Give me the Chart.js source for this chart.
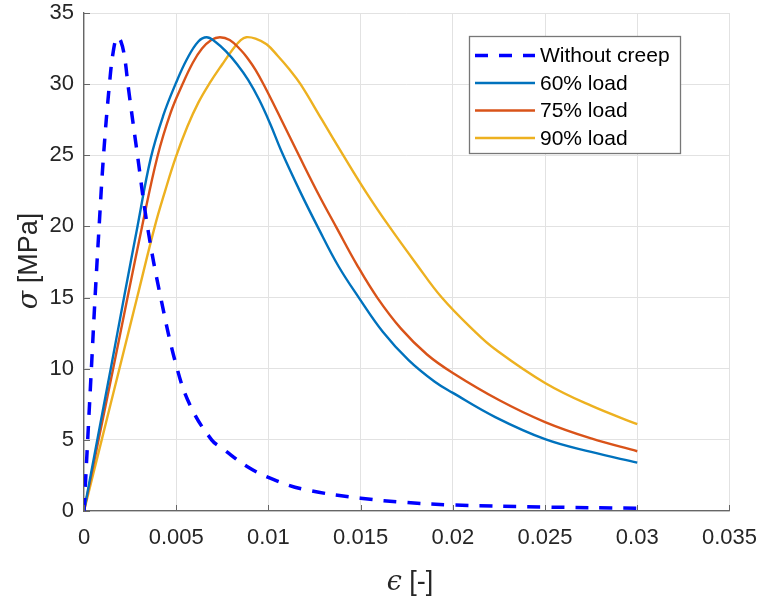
<!DOCTYPE html>
<html>
<head>
<meta charset="utf-8">
<script src="https://cdn.jsdelivr.net/npm/chart.js@4/dist/chart.umd.min.js"></script>
<style>
  html, body { margin: 0; padding: 0; background: #fff; }
  #wrap { width: 771px; height: 601px; }
</style>
</head>
<body>
<div id="wrap"><canvas id="chart" width="771" height="601"></canvas></div>
<script>
// Stress-strain curves, values
const SERIES_LABELS = ['Without creep', '60% load', '75% load', '90% load'];
const SERIES_COLORS = ['#0000ff', '#0072bd', '#d95319', '#edb120'];

const epsNoCreep = [0, 0.0002, 0.0004, 0.0006, 0.00082, 0.00106, 0.00138, 0.0016, 0.0018, 0.002,
  0.0022, 0.0024, 0.0029, 0.00344, 0.00416, 0.00505, 0.0058, 0.00692, 0.0075, 0.009,
  0.0105, 0.012, 0.015, 0.0175, 0.02, 0.025, 0.03];
const sigNoCreep = [0, 5, 10, 15, 20, 25, 30, 32.4, 33.3, 33.0,
  31.9, 29.8, 25, 20, 15, 10, 7.3, 5, 4.4, 3.0,
  2.1, 1.5, 0.9, 0.6, 0.42, 0.28, 0.19];

const eps60 = [0, 0.00072, 0.00145, 0.00217, 0.0029, 0.00362, 0.0043, 0.00496, 0.0056, 0.0062,
  0.00665, 0.0071, 0.0077, 0.0083, 0.0089, 0.0095, 0.0101, 0.0107, 0.0117, 0.0127,
  0.0138, 0.0149, 0.0162, 0.0176, 0.019, 0.02, 0.0223, 0.025, 0.0275, 0.03];
const sig60 = [0, 5, 10, 15, 20, 24.8, 27.8, 30.0, 31.8, 33.0,
  33.3, 33.0, 32.3, 31.4, 30.3, 28.9, 27.2, 25.3, 22.5, 19.9,
  17.2, 15.0, 12.6, 10.6, 9.1, 8.3, 6.6, 5.05, 4.15, 3.4];

const eps75 = [0, 0.00079, 0.00158, 0.00236, 0.00315, 0.00398, 0.0047, 0.00531, 0.0059, 0.0064,
  0.0069, 0.00737, 0.0079, 0.0085, 0.00888, 0.0093, 0.00977, 0.0107, 0.01165, 0.0127,
  0.0137, 0.0148, 0.0159, 0.0172, 0.0186, 0.02, 0.0225, 0.025, 0.0275, 0.03];
const sig75 = [0, 5, 10, 15, 20, 24.9, 28.0, 29.9, 31.5, 32.5,
  33.1, 33.3, 33.1, 32.4, 31.8, 31.0, 29.9, 27.5, 25.0, 22.3,
  19.9, 17.3, 15.0, 12.8, 11.0, 9.7, 7.8, 6.25, 5.1, 4.2];

const eps90 = [0, 0.00096, 0.00192, 0.00288, 0.00384, 0.0044, 0.00496, 0.0056, 0.0062, 0.00683,
  0.0075, 0.0081, 0.0085, 0.0088, 0.0093, 0.0099, 0.0105, 0.0111, 0.01174, 0.0129,
  0.01406, 0.0153, 0.01655, 0.018, 0.0194, 0.0212, 0.02226, 0.025, 0.0275, 0.03];
const sig90 = [0, 5, 10, 15, 20, 22.5, 24.8, 27.0, 28.7, 30.1,
  31.4, 32.5, 33.1, 33.3, 33.2, 32.8, 32.0, 31.1, 30.0, 27.5,
  25.0, 22.4, 20.0, 17.4, 15.0, 12.6, 11.4, 9.0, 7.4, 6.1];

const X_TICKS = [0, 0.005, 0.01, 0.015, 0.02, 0.025, 0.03, 0.035];
const Y_TICKS = [0, 5, 10, 15, 20, 25, 30, 35];

const AXIS_COLOR = '#666666';
const GRID_COLOR = '#e2e2e2';
const TEXT_COLOR = '#262626';
const SANS = '"Liberation Sans", Arial, sans-serif';

function toPoints(xs, ys) {
  return xs.map((x, i) => ({ x, y: ys[i] }));
}

function makeDataset(i, xs, ys, dashed) {
  return {
    label: SERIES_LABELS[i],
    data: toPoints(xs, ys),
    showLine: true,
    borderColor: SERIES_COLORS[i],
    backgroundColor: SERIES_COLORS[i],
    borderWidth: dashed ? 3.5 : 2.4,
    borderDash: dashed ? [13, 11] : [],
    pointRadius: 0,
    tension: 0.4,
    fill: false,
  };
}

// inward tick marks, axis titles and the boxed legend, MATLAB style
const matlabDecor = {
  id: 'matlabDecor',
  afterDatasetsDraw(chart) {
    const { ctx, chartArea: a, scales } = chart;
    ctx.save();
    ctx.strokeStyle = AXIS_COLOR;
    ctx.lineWidth = 1;
    ctx.beginPath();
    X_TICKS.forEach(v => {
      const px = Math.round(scales.x.getPixelForValue(v)) + 0.5;
      ctx.moveTo(px, a.bottom);
      ctx.lineTo(px, a.bottom - 6);
    });
    Y_TICKS.forEach(v => {
      const py = Math.round(scales.y.getPixelForValue(v)) + 0.5;
      ctx.moveTo(a.left, py);
      ctx.lineTo(a.left + 6, py);
    });
    ctx.stroke();

    // legend
    const lx = 469.5, ly = 36.5, lw = 211, lh = 117;
    ctx.fillStyle = '#fff';
    ctx.fillRect(lx, ly, lw, lh);
    ctx.strokeStyle = '#777';
    ctx.lineWidth = 1.3;
    ctx.strokeRect(lx, ly, lw, lh);
    ctx.font = '21px ' + SANS;
    ctx.textBaseline = 'middle';
    ctx.textAlign = 'left';
    chart.data.datasets.forEach((ds, i) => {
      const ry = 55.5 + i * 27.5;
      ctx.strokeStyle = ds.borderColor;
      ctx.lineWidth = ds.borderWidth;
      ctx.setLineDash(ds.borderDash);
      ctx.beginPath();
      ctx.moveTo(475, ry);
      ctx.lineTo(535, ry);
      ctx.stroke();
      ctx.setLineDash([]);
      ctx.fillStyle = '#000';
      ctx.fillText(ds.label, 540, ry + 1);
    });

    // axis titles
    ctx.fillStyle = TEXT_COLOR;
    ctx.textBaseline = 'alphabetic';
    const symFont = 'italic 27px "DejaVu Serif", serif';
    const txtFont = '27px ' + SANS;

    ctx.font = symFont;
    const wEps = ctx.measureText('ϵ').width;
    ctx.font = txtFont;
    const wX = ctx.measureText(' [-]').width;
    let sx = 410 - (wEps + wX) / 2;
    ctx.font = symFont;
    ctx.fillText('ϵ', sx, 590);
    ctx.font = txtFont;
    ctx.fillText(' [-]', sx + wEps, 590);

    ctx.translate(37, 261);
    ctx.rotate(-Math.PI / 2);
    ctx.font = symFont;
    const wSig = ctx.measureText('σ').width;
    ctx.font = txtFont;
    const wY = ctx.measureText(' [MPa]').width;
    sx = -(wSig + wY) / 2;
    ctx.font = symFont;
    ctx.fillText('σ', sx, 0);
    ctx.font = txtFont;
    ctx.fillText(' [MPa]', sx + wSig, 0);
    ctx.restore();
  },
};

new Chart(document.getElementById('chart'), {
  type: 'scatter',
  data: {
    datasets: [
      makeDataset(0, epsNoCreep, sigNoCreep, true),
      makeDataset(1, eps60, sig60, false),
      makeDataset(2, eps75, sig75, false),
      makeDataset(3, eps90, sig90, false),
    ],
  },
  options: {
    responsive: false,
    animation: false,
    layout: { padding: { top: 13, right: 33, left: 0, bottom: 0 } },
    plugins: {
      legend: { display: false },
      tooltip: { enabled: false },
    },
    scales: {
      x: {
        type: 'linear',
        min: 0,
        max: 0.035,
        afterFit: (s) => { s.height = 90; },
        afterBuildTicks: (s) => { s.ticks = X_TICKS.map(v => ({ value: v })); },
        ticks: {
          color: TEXT_COLOR,
          font: { family: SANS, size: 22 },
          padding: 14,
          maxRotation: 0,
          autoSkip: false,
          callback: (v) => String(Number(v.toFixed(3))),
        },
        grid: { color: GRID_COLOR, drawTicks: false, lineWidth: 1 },
        border: { display: true, color: AXIS_COLOR, width: 1.3 },
      },
      y: {
        type: 'linear',
        min: 0,
        max: 35,
        afterFit: (s) => { s.width = 84; },
        afterBuildTicks: (s) => { s.ticks = Y_TICKS.map(v => ({ value: v })); },
        ticks: {
          color: TEXT_COLOR,
          font: { family: SANS, size: 22, lineHeight: 0.2 },
          padding: 10,
          autoSkip: false,
          callback: (v) => String(v),
        },
        grid: { color: GRID_COLOR, drawTicks: false, lineWidth: 1 },
        border: { display: true, color: AXIS_COLOR, width: 1.3 },
      },
    },
  },
  plugins: [matlabDecor],
});
</script>
</body>
</html>
